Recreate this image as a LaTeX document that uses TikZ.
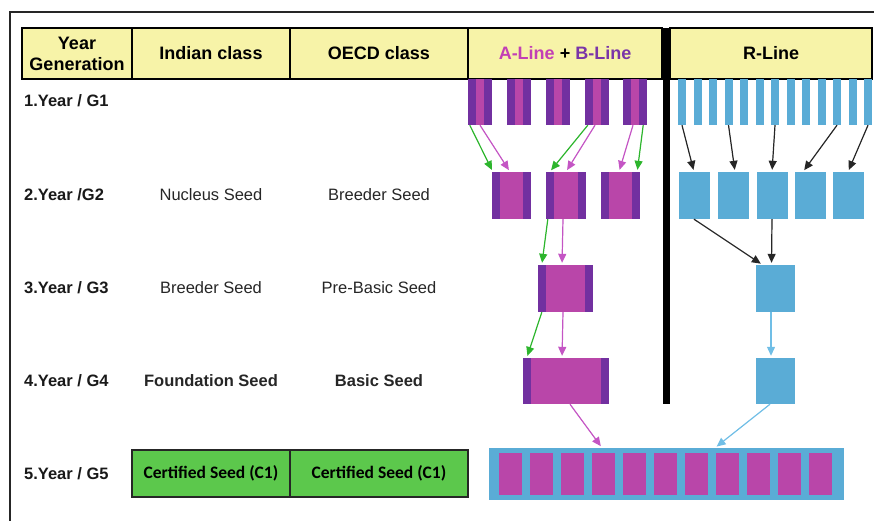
\documentclass[tikz,border=0pt]{standalone}
\usepackage{fontspec}
\setmainfont{Liberation Sans}
\newfontfamily\calibri{Carlito}
\usepackage{tikz}
\usetikzlibrary{calc,arrows.meta}

\definecolor{headyellow}{HTML}{F7F3A8}
\definecolor{abmag}{HTML}{B946A9}
\definecolor{abdark}{HTML}{7230A0}
\definecolor{rblue}{HTML}{5AACD6}
\definecolor{certgreen}{HTML}{5CC84C}
\definecolor{argreen}{HTML}{2DB52D}
\definecolor{armag}{HTML}{C455C4}
\definecolor{arblue}{HTML}{70BEE6}
\definecolor{aline}{HTML}{C23FB5}
\definecolor{bline}{HTML}{7A35A8}

\begin{document}
\begin{tikzpicture}[x=1pt,y=-1pt,
    head/.style={draw=black, line width=1.2pt, fill=headyellow, minimum height=51pt,
        inner sep=0pt, align=center, font=\fontsize{18}{21}\selectfont\bfseries},
    abbox/.style={fill=abmag, inner sep=0pt, path picture={
        \fill[abdark] (path picture bounding box.north west) rectangle ([xshift=\strip]path picture bounding box.south west);
        \fill[abdark] (path picture bounding box.north east) rectangle ([xshift=-\strip]path picture bounding box.south east);}},
    rbox/.style={fill=rblue, inner sep=0pt},
    rowlab/.style={anchor=west, inner sep=0pt, text=black!90, font=\fontsize{16.5}{18}\selectfont\bfseries},
    cls/.style={inner sep=0pt, text=black!85, font=\fontsize{16.5}{18}\selectfont},
    certbox/.style={draw=black!85, line width=1.2pt, fill=certgreen, minimum height=47pt,
        inner sep=0pt, font=\calibri\bfseries\fontsize{17.5}{19}\selectfont},
    arr/.style={line width=1.2pt, shorten >=2pt, -{Triangle[length=9pt,width=8pt]}},
    greenarr/.style={arr, draw=argreen, fill=argreen},
    magarr/.style={arr, draw=armag, fill=armag},
    blackarr/.style={arr, draw=black!85, fill=black!85},
    bluearr/.style={arr, draw=arblue, fill=arblue}]
    % 参数设置
    \def\strip{8pt} % 深紫色边条宽度
    \useasboundingbox (0,0) rectangle (874,520);

    % 外框
    \draw[line width=2.5pt, black!85] (10,12) rectangle (890,540);

    % 表头
    \node[head, minimum width=110pt] (hyear) at (77,53.5) {Year\\Generation};
    \node[head, minimum width=158pt] (hind) at (211,53.5) {Indian class};
    \node[head, minimum width=178pt] (hoecd) at (379,53.5) {OECD class};
    \node[head, minimum width=194pt] (hab) at (565,53.5) {{\color{aline}A-Line} + {\color{bline}B-Line}};
    \node[head, minimum width=202pt] (hr) at (771,53.5) {R-Line};

    % 分隔粗线
    \draw[line width=7pt] (666.5,28) -- (666.5,404);

    % 年份标注
    \node[rowlab] (y1) at (24,101) {1.Year / G1};
    \node[rowlab] (y2) at (24,195) {2.Year /G2};
    \node[rowlab] (y3) at (24,288) {3.Year / G3};
    \node[rowlab] (y4) at (24,381) {4.Year / G4};
    \node[rowlab] (y5) at (24,474) {5.Year / G5};

    % 种子等级
    \node[cls] (ind2) at (211,195) {Nucleus Seed};
    \node[cls] (oecd2) at (379,195) {Breeder Seed};
    \node[cls] (ind3) at (211,288) {Breeder Seed};
    \node[cls] (oecd3) at (379,288) {Pre-Basic Seed};
    \node[cls, font=\fontsize{16.5}{18}\selectfont\bfseries] (ind4) at (211,381) {Foundation Seed};
    \node[cls, font=\fontsize{16.5}{18}\selectfont\bfseries] (oecd4) at (379,381) {Basic Seed};
    \node[certbox, minimum width=158pt] (cert1) at (211,473.5) {Certified Seed (C1)};
    \node[certbox, minimum width=178pt] (cert2) at (379,473.5) {Certified Seed (C1)};

    % G1
    \foreach \x [count=\i] in {480,519,558,597,635}
        \node[abbox, minimum width=24pt, minimum height=46pt] (g1a\i) at (\x,102) {};
    \foreach \i in {1,...,13}
        \node[rbox, minimum width=8pt, minimum height=46pt] (g1r\i) at ({666.5+15.5*\i},102) {};

    % G2
    \foreach \x/\w [count=\i] in {511.5/39,566/40,620.5/39}
        \node[abbox, minimum width=\w pt, minimum height=47pt] (g2a\i) at (\x,195.5) {};
    \foreach \x [count=\i] in {694,733,772,810,848}
        \node[rbox, minimum width=31pt, minimum height=47pt] (g2r\i) at (\x,195.5) {};

    % G3, G4
    \node[abbox, minimum width=55pt, minimum height=47pt] (g3a) at (565.5,288.5) {};
    \node[rbox, minimum width=39pt, minimum height=47pt] (g3r) at (775.5,288.5) {};
    \node[abbox, minimum width=86pt, minimum height=46pt] (g4a) at (566,381) {};
    \node[rbox, minimum width=39pt, minimum height=46pt] (g4r) at (775.5,381) {};

    % G5
    \node[rbox, minimum width=355pt, minimum height=52pt] (g5) at (666.5,474) {};
    \foreach \i in {0,...,10}
        \node[fill=abmag, inner sep=0pt, minimum width=23pt, minimum height=42pt] (g5m\i) at ({510.5+31*\i},474) {};

    % 箭头 G1 -> G2
    \draw[greenarr] ($(g1a1.south west)+(2,0)$) -- ($(g2a1.north west)+(1,0)$);
    \draw[magarr] (g1a1.south) -- ($(g2a1.north)+(-1.5,0)$);
    \draw[greenarr] ($(g1a4.south west)+(3,0)$) -- ($(g2a2.north west)+(4,0)$);
    \draw[magarr] ($(g1a4.south)+(-2,0)$) -- (g2a2.north);
    \draw[magarr] ($(g1a5.south)+(-2,0)$) -- ($(g2a3.north)+(-1.5,0)$);
    \draw[greenarr] ($(g1a5.south east)+(-4,0)$) -- ($(g2a3.north east)+(-3,0)$);
    \draw[blackarr] (g1r1.south) -- (g2r1.north);
    \draw[blackarr] (g1r4.south) -- ($(g2r2.north)+(2,0)$);
    \draw[blackarr] (g1r7.south) -- (g2r3.north);
    \draw[blackarr] (g1r11.south) -- ($(g2r4.north)+(-7,0)$);
    \draw[blackarr] (g1r13.south) -- (g2r5.north);

    % 箭头 G2 -> G3
    \draw[greenarr] ($(g2a2.south west)+(2,0)$) -- ($(g3a.north west)+(4,0)$);
    \draw[magarr] ($(g2a2.south)+(-3,0)$) -- ($(g3a.north)+(-3.5,0)$);
    \draw[blackarr] (g2r1.south) -- ($(g3r.north)+(-13,0)$);
    \draw[blackarr] (g2r3.south) -- ($(g3r.north)+(-4,0)$);

    % 箭头 G3 -> G4
    \draw[greenarr] ($(g3a.south west)+(4,0)$) -- ($(g4a.north west)+(4,0)$);
    \draw[magarr] ($(g3a.south)+(-2.5,0)$) -- ($(g4a.north)+(-4,0)$);
    \draw[bluearr] ($(g3r.south)+(-4.5,0)$) -- ($(g4r.north)+(-4.5,0)$);

    % 箭头 G4 -> G5
    \draw[magarr] ($(g4a.south)+(4,0)$) -- ($(g5.north)+(-64.5,0)$);
    \draw[bluearr] ($(g4r.south)+(-5.5,0)$) -- ($(g5.north)+(48.5,0)$);
\end{tikzpicture}
\end{document}
